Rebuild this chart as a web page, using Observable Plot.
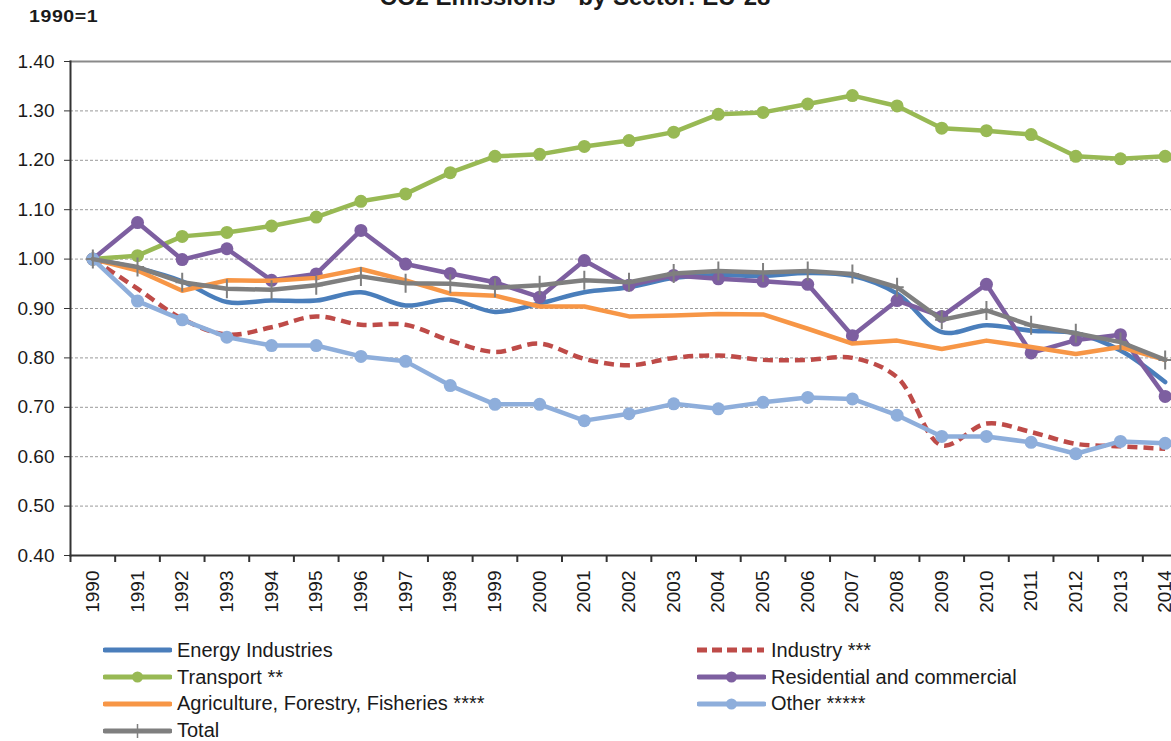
<!DOCTYPE html>
<html>
<head>
<meta charset="utf-8">
<script src="https://cdn.jsdelivr.net/npm/d3@7"></script>
<script src="https://cdn.jsdelivr.net/npm/@observablehq/plot@0.6"></script>
<style>
  html, body { margin: 0; padding: 0; background: #fff; overflow: hidden; }
  #wrap { position: relative; width: 1171px; height: 741px; overflow: hidden; font-family: "Liberation Sans", Arial, sans-serif; color: #1a1a1a; }
  #title { position: absolute; top: -15px; left: 0; width: 1150px; text-align: center; font-weight: bold; font-size: 24px; line-height: 24px; white-space: pre; }
  #unit { position: absolute; top: 8px; left: 29px; font-weight: bold; font-size: 17px; line-height: 18px; letter-spacing: 0.5px; transform: scaleX(1.15); transform-origin: left; }
  #chart { position: absolute; top: 0; left: 0; width: 1190px; }
  #chart svg { max-width: none !important; }
  #legend { position: absolute; top: 637px; left: 103px; display: grid; grid-template-columns: 594px auto; grid-auto-rows: 26.8px; }
  .item { display: flex; align-items: center; font-size: 20px; white-space: nowrap; }
  .item svg { margin-right: 5px; flex: none; }
</style>
</head>
<body>
<div id="wrap">
  <div id="title">CO2 Emissions*  by Sector: EU-28</div>
  <div id="unit">1990=1</div>
  <div id="chart"></div>
  <div id="legend"></div>
</div>
<script>
const years = [1990,1991,1992,1993,1994,1995,1996,1997,1998,1999,2000,2001,2002,2003,2004,2005,2006,2007,2008,2009,2010,2011,2012,2013,2014];
const yTicks = [0.40,0.50,0.60,0.70,0.80,0.90,1.00,1.10,1.20,1.30,1.40];

const energy      = [1.000,0.982,0.955,0.913,0.916,0.916,0.933,0.906,0.918,0.893,0.910,0.933,0.943,0.962,0.968,0.966,0.972,0.966,0.930,0.852,0.866,0.855,0.850,0.815,0.751];
const industry    = [1.000,0.940,0.879,0.847,0.862,0.884,0.867,0.867,0.835,0.812,0.829,0.798,0.785,0.800,0.805,0.796,0.796,0.800,0.761,0.623,0.667,0.650,0.626,0.621,0.616];
const transport   = [1.000,1.007,1.046,1.054,1.067,1.085,1.117,1.132,1.175,1.208,1.212,1.228,1.240,1.257,1.293,1.297,1.314,1.331,1.310,1.265,1.260,1.252,1.208,1.203,1.208];
const residential = [1.000,1.074,0.999,1.021,0.957,0.970,1.058,0.990,0.971,0.953,0.923,0.997,0.947,0.967,0.960,0.955,0.949,0.845,0.916,0.884,0.949,0.810,0.836,0.847,0.722];
const agriculture = [1.000,0.977,0.936,0.957,0.956,0.962,0.980,0.957,0.930,0.926,0.904,0.904,0.884,0.886,0.889,0.888,0.859,0.829,0.835,0.818,0.835,0.822,0.808,0.822,0.796];
const other       = [1.000,0.915,0.877,0.842,0.825,0.825,0.803,0.793,0.744,0.706,0.706,0.673,0.687,0.707,0.697,0.710,0.720,0.717,0.684,0.641,0.641,0.629,0.606,0.631,0.627];
const total       = [1.000,0.984,0.953,0.940,0.938,0.947,0.965,0.951,0.950,0.942,0.947,0.957,0.953,0.971,0.976,0.973,0.976,0.970,0.943,0.877,0.896,0.866,0.850,0.832,0.796];

const seriesNames = ["Energy Industries","Industry ***","Transport **","Residential and commercial","Agriculture, Forestry, Fisheries ****","Other *****","Total"];
const seriesValues = [energy, industry, transport, residential, agriculture, other, total];
const seriesColors = ["#4a7ebb","#be4b48","#98b954","#7d5fa0","#f79646","#8eaedb","#7f7f7f"];
const seriesMarker = ["none","none","circle","circle","none","circle","cross"];
const seriesDash   = [null,"10,6",null,null,null,null,null];
const seriesCurve  = ["catmull-rom","catmull-rom","linear","linear","linear","linear","linear"];

const crossSymbol = {
  draw(ctx, size) {
    const r = Math.sqrt(size / Math.PI);
    ctx.moveTo(0, -r); ctx.lineTo(0, r);
    ctx.moveTo(-r * 0.7, 0); ctx.lineTo(r * 0.7, 0);
  }
};

const series = seriesNames.map((name, i) => ({
  name, color: seriesColors[i], marker: seriesMarker[i], dash: seriesDash[i], curve: seriesCurve[i],
  data: years.map((y, j) => ({year: y, value: seriesValues[i][j]}))
}));

const bounds = [...years.map(y => y - 0.5), years[years.length - 1] + 0.5];

const marks = [
  Plot.gridY(yTicks.slice(0, -1), {stroke: "#9a9a9a", strokeOpacity: 1, strokeDasharray: "3,2", strokeWidth: 1}),
  Plot.frame({anchor: "top", stroke: "#8a8a8a", strokeWidth: 2}),
];
for (const s of series) {
  marks.push(Plot.line(s.data, {x: "year", y: "value", stroke: s.color, strokeWidth: 4.5, curve: s.curve,
    strokeDasharray: s.dash || undefined, strokeLinecap: s.dash ? "butt" : "round", strokeLinejoin: "round"}));
  if (s.marker === "circle") {
    marks.push(Plot.dot(s.data, {x: "year", y: "value", r: 6.5, fill: s.color, stroke: "none"}));
  } else if (s.marker === "cross") {
    marks.push(Plot.dot(s.data, {x: "year", y: "value", r: 9.5, symbol: crossSymbol, fill: "none", stroke: s.color, strokeWidth: 2}));
  }
}
marks.push(
  Plot.axisY({ticks: yTicks, tickFormat: d => d.toFixed(2), tickSize: 6, tickPadding: 10, fontSize: 19, color: "#1a1a1a", stroke: "#333", label: null}),
  Plot.axisX({ticks: years, tickFormat: d => String(d), tickRotate: -90, tickSize: 0, tickPadding: 15, fontSize: 19, color: "#1a1a1a", label: null}),
  Plot.axisX({ticks: bounds, tickFormat: () => "", tickSize: 7, stroke: "#333", strokeWidth: 2, label: null}),
  Plot.frame({anchor: "left", stroke: "#333", strokeWidth: 2}),
  Plot.frame({anchor: "bottom", stroke: "#333", strokeWidth: 2})
);

const chart = Plot.plot({
  width: 1190,
  height: 620,
  marginTop: 61,
  marginBottom: 65,
  marginLeft: 70,
  marginRight: 3,
  style: {fontFamily: '"Liberation Sans", Arial, sans-serif', fontSize: "19px", background: "transparent", maxWidth: "none"},
  x: {domain: [bounds[0], bounds[bounds.length - 1]], label: null},
  y: {domain: [yTicks[0], yTicks[yTicks.length - 1]], label: null},
  marks
});
document.getElementById("chart").appendChild(chart);

// Legend
const legend = document.getElementById("legend");
for (const s of series) {
  const item = document.createElement("div");
  item.className = "item";
  const ns = "http://www.w3.org/2000/svg";
  const svg = document.createElementNS(ns, "svg");
  svg.setAttribute("width", 69); svg.setAttribute("height", 20);
  const line = document.createElementNS(ns, "line");
  line.setAttribute("x1", 2); line.setAttribute("x2", 67); line.setAttribute("y1", 10); line.setAttribute("y2", 10);
  line.setAttribute("stroke", s.color); line.setAttribute("stroke-width", 5);
  if (s.dash) { line.setAttribute("stroke-dasharray", "10,5"); line.setAttribute("x1", 0); }
  else line.setAttribute("stroke-linecap", "round");
  svg.appendChild(line);
  if (s.marker === "circle") {
    const c = document.createElementNS(ns, "circle");
    c.setAttribute("cx", 34.5); c.setAttribute("cy", 10); c.setAttribute("r", 5.5); c.setAttribute("fill", s.color);
    svg.appendChild(c);
  } else if (s.marker === "cross") {
    const p = document.createElementNS(ns, "path");
    p.setAttribute("d", "M34.5,3V17M29,10H40"); p.setAttribute("stroke", s.color); p.setAttribute("stroke-width", 1.5);
    svg.appendChild(p);
  }
  item.appendChild(svg);
  const t = document.createElement("span");
  t.textContent = s.name;
  item.appendChild(t);
  legend.appendChild(item);
}
</script>
</body>
</html>
